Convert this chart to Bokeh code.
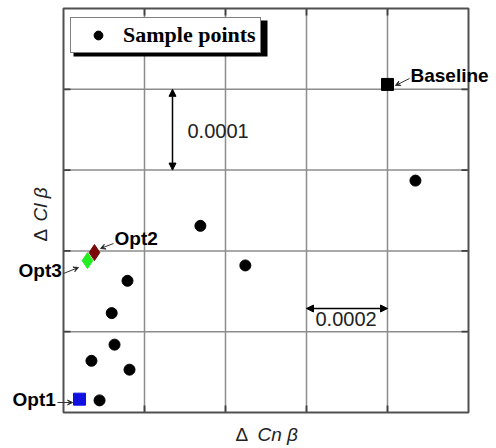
import math
from bokeh.plotting import figure
from bokeh.models import (Range1d, Label, Arrow, NormalHead, VeeHead,
                          BoxAnnotation, Legend, LegendItem)
from bokeh.embed import file_html
from bokeh.resources import INLINE

# ---- data (ΔCnβ, ΔClβ) ----
sample_x = [0.000869, 0.000338, 0.000449, 0.000158, 0.000119, 0.000126, 0.000069, 0.000163, 0.000089]
sample_y = [0.000287, 0.000231, 0.000182, 0.000163, 0.000123, 0.000084, 0.000064, 0.000053, 0.000015]
baseline_x = [0.000800]
baseline_y = [0.000406]
opt1_x = [0.0000395]
opt1_y = [0.0000165]
opt2_x = [0.0000765]
opt2_y = [0.000198]
opt3_x = [0.0000593]
opt3_y = [0.000188]
x_grid = [0.0002, 0.0004, 0.0006, 0.0008]
y_grid = [0.0001, 0.0002, 0.0003, 0.0004]

W, H = 496, 448
L, R, T, B = 63, 28, 8, 36          # plot box inside the canvas (pixels)
X0, X1 = 0.0, 0.001
Y0, Y1 = 0.0, 0.0005
FW, FH = W - L - R, H - T - B
TICK = 7                            # inner tick length in pixels

def px(sx):
    return X0 + (sx - L) / FW * (X1 - X0)

def py(sy):
    return Y0 + (H - B - sy) / FH * (Y1 - Y0)

dx = TICK / FW * (X1 - X0)
dy = TICK / FH * (Y1 - Y0)

# the frame covers the whole canvas so that labels outside the box are not clipped
p = figure(width=W, height=H, output_backend="svg", toolbar_location=None,
           x_range=Range1d(px(0), px(W)), y_range=Range1d(py(H), py(0)),
           x_axis_location=None, y_axis_location=None, min_border=0)
p.xgrid.visible = False
p.ygrid.visible = False
p.outline_line_color = None
p.background_fill_color = "white"
p.border_fill_color = "white"

# grid lines, inner ticks and plot box
n, m = len(x_grid), len(y_grid)
p.segment(x0=x_grid, y0=[Y0] * n, x1=x_grid, y1=[Y1] * n,
          line_color="#8c8c8c", line_width=1.5)
p.segment(x0=[X0] * m, y0=y_grid, x1=[X1] * m, y1=y_grid,
          line_color="#8c8c8c", line_width=1.5)
p.segment(x0=x_grid * 2, y0=[Y0] * n + [Y1] * n, x1=x_grid * 2,
          y1=[Y0 + dy] * n + [Y1 - dy] * n, line_color="#404040", line_width=1.8)
p.segment(x0=[X0] * m + [X1] * m, y0=y_grid * 2, x1=[X0 + dx] * m + [X1 - dx] * m,
          y1=y_grid * 2, line_color="#404040", line_width=1.8)
p.quad(left=[X0], right=[X1], bottom=[Y0], top=[Y1], fill_color=None,
       line_color="#505050", line_width=2)

# legend shadow
p.add_layout(BoxAnnotation(left=px(73), right=px(267), top=py(20), bottom=py(56),
                           fill_color="black", fill_alpha=1, line_alpha=0))

samples = p.scatter(sample_x, sample_y, marker="circle", size=11, color="black")
p.scatter(baseline_x, baseline_y, marker="square", size=12, color="black")
p.scatter(opt1_x, opt1_y, marker="square", size=12, color="#1010e0")
p.scatter(opt2_x, opt2_y, marker="diamond", size=16, color="#7a0a0a")
p.scatter(opt3_x, opt3_y, marker="diamond", size=16, color="#22ee22")

legend = Legend(items=[LegendItem(label="Sample points", renderers=[samples])],
                location=(70, H - 53), padding=4, glyph_width=46, glyph_height=22,
                label_standoff=2, border_line_color="black", border_line_width=1.5,
                background_fill_color="white", background_fill_alpha=1,
                label_text_font="Liberation Serif", label_text_font_style="bold",
                label_text_font_size="22px", label_text_color="black", margin=0)
p.add_layout(legend, "center")

# scale arrows
p.add_layout(Arrow(start=NormalHead(size=7, fill_color="black", line_color="black"),
                   end=NormalHead(size=7, fill_color="black", line_color="black"),
                   x_start=px(172), y_start=0.0004, x_end=px(172), y_end=0.0003,
                   line_width=1.5, line_color="black"))
p.add_layout(Label(x=px(187), y=py(130), text="0.0001", text_font="Liberation Sans",
                   text_font_size="20px", text_baseline="middle", text_color="#222222"))
p.add_layout(Arrow(start=NormalHead(size=7, fill_color="black", line_color="black"),
                   end=NormalHead(size=7, fill_color="black", line_color="black"),
                   x_start=0.0006, y_start=py(308), x_end=0.0008, y_end=py(308),
                   line_width=1.5, line_color="black"))
p.add_layout(Label(x=px(315), y=py(318), text="0.0002", text_font="Liberation Sans",
                   text_font_size="20px", text_baseline="middle", text_color="#222222"))

# point labels with pointer arrows
def pointer(x0, y0, x1, y1):
    p.add_layout(Arrow(end=VeeHead(size=5, line_color="#333333", line_width=1),
                       x_start=px(x0), y_start=py(y0), x_end=px(x1), y_end=py(y1),
                       line_width=1, line_color="#333333"))

def tag(sx, sy, text):
    p.add_layout(Label(x=px(sx), y=py(sy), text=text, text_font="Liberation Sans",
                       text_font_style="bold", text_font_size="19px",
                       text_baseline="middle", text_color="black"))

tag(410, 75, "Baseline"); pointer(409, 78, 395, 85)
tag(114, 238, "Opt2"); pointer(113, 243, 100, 248)
tag(18, 270, "Opt3"); pointer(63, 273, 78, 267)
tag(12, 399, "Opt1"); pointer(57, 402, 72, 402)

# axis titles
p.add_layout(Label(x=px(235), y=py(434), text="Δ", text_font="Liberation Sans",
                   text_font_size="19px", text_baseline="middle", text_color="#222222"))
p.add_layout(Label(x=px(257), y=py(434), text="Cn β", text_font="Liberation Sans",
                   text_font_style="italic", text_font_size="19px",
                   text_baseline="middle", text_color="#222222"))
p.add_layout(Label(x=px(40), y=py(241), text="Δ", text_font="Liberation Sans", angle=math.pi / 2,
                   text_font_size="19px", text_baseline="middle", text_color="#222222"))
p.add_layout(Label(x=px(40), y=py(221), text="Cl β", text_font="Liberation Sans", angle=math.pi / 2,
                   text_font_style="italic", text_font_size="19px",
                   text_baseline="middle", text_color="#222222"))

open("out.html", "w").write(file_html(p, INLINE))
